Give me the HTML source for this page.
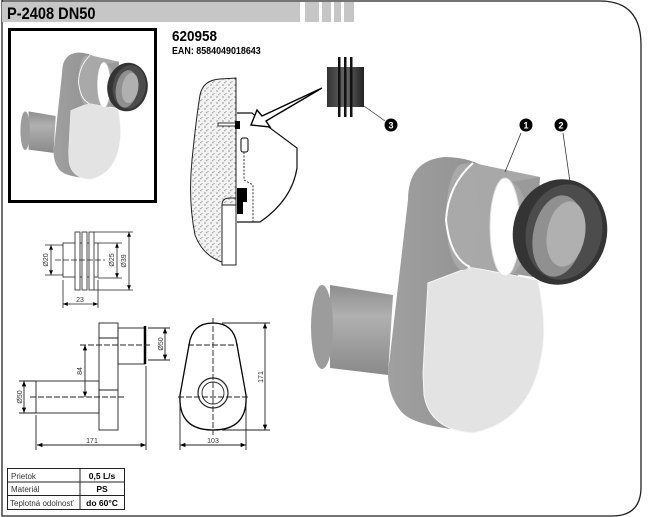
<!DOCTYPE html>
<html><head><meta charset="utf-8"><style>
html,body{margin:0;padding:0;background:#fff;}
svg{display:block;}
text{font-family:"Liberation Sans",sans-serif;}
</style></head><body>
<svg width="666" height="517" viewBox="0 0 666 517" xmlns="http://www.w3.org/2000/svg">
<defs>
<pattern id="st" width="6" height="6" patternUnits="userSpaceOnUse">
<rect width="6" height="6" fill="#f2f2f2"/><circle cx="1" cy="1" r="0.6" fill="#555"/><circle cx="4" cy="3.5" r="0.5" fill="#777"/><rect x="2" y="4.5" width="1.5" height="0.6" fill="#666"/>
</pattern>
<linearGradient id="gp" x1="0" y1="0" x2="0" y2="1"><stop offset="0" stop-color="#8e8e8e"/><stop offset="0.35" stop-color="#b0b0b0"/><stop offset="1" stop-color="#8a8a8a"/></linearGradient>
<linearGradient id="gs" x1="0" y1="0" x2="1" y2="0"><stop offset="0" stop-color="#a0a0a0"/><stop offset="1" stop-color="#8c8c8c"/></linearGradient>
<linearGradient id="gk" x1="0" y1="0" x2="1" y2="0"><stop offset="0" stop-color="#333"/><stop offset="0.5" stop-color="#666"/><stop offset="1" stop-color="#222"/></linearGradient>
<marker id="ar" viewBox="0 0 10 10" refX="10" refY="5" markerWidth="6" markerHeight="6" orient="auto-start-reverse"><path d="M0,1 L10,5 L0,9 z" fill="#000"/></marker>
<g id="part">
<path d="M330,285 L393,295 L388,375 L330,368 Z" fill="url(#gp)"/>
<ellipse cx="322" cy="327" rx="11" ry="42" fill="#9c9c9c"/>
<path d="M408,200 Q408,160 445,157 Q470,157 490,170 L520,270 L460,430 Q410,425 400,410 Q388,395 388,373 Z" fill="url(#gs)"/>
<path d="M470,267 L538,280 Q546,320 543,345 Q535,420 473,433 Q430,430 424,395 L423,373 L428,283 Z" fill="#e3e3e3" stroke="#f6f6f6" stroke-width="1"/>
<path d="M463,164 L473,163 L540,177 L533,277 L470,267 Q460,265 455,255 Z" fill="#a8a8a8"/>
<ellipse cx="463" cy="217" rx="17" ry="53" fill="#a9a9a9"/>
<path d="M473,163 Q448,185 446,220 Q450,258 470,267" fill="none" stroke="#fff" stroke-width="2"/>
<ellipse cx="505" cy="227" rx="15" ry="49" fill="#fff" stroke="#ddd" stroke-width="1"/>
<path d="M512,182 Q526,190 530,225 Q528,260 514,273 L533,277 L540,177 Z" fill="#9a9a9a"/>
<ellipse cx="560" cy="232" rx="47" ry="53" fill="#343434" transform="rotate(12 560 232)"/>
<ellipse cx="564" cy="232" rx="38" ry="48" fill="#4c4c4c" transform="rotate(12 564 232)"/>
<ellipse cx="558" cy="236" rx="25" ry="41" fill="#909090" transform="rotate(10 558 236)"/>
<ellipse cx="566" cy="234" rx="19" ry="33" fill="#b0b0b0" transform="rotate(10 566 234)"/>
</g>
</defs>
<!-- page border -->
<path d="M2,0 L2,516 L612,516 Q641,516 641,487 L641,45 Q641,1 600,1 L2,1" fill="none" stroke="#222" stroke-width="1.3"/>
<!-- header -->
<rect x="2" y="2" width="298" height="20" fill="#c6c6c6"/>
<rect x="305" y="2" width="14" height="20" fill="#c6c6c6"/>
<rect x="322" y="2" width="9" height="20" fill="#c6c6c6"/>
<rect x="334" y="2" width="7" height="20" fill="#c6c6c6"/>
<rect x="344" y="2" width="10" height="20" fill="#c6c6c6"/>
<text x="7" y="19" font-size="17" font-weight="bold" transform="scale(0.86,1)" style="transform-origin:7px 0">P-2408 DN50</text>
<text x="172" y="41" font-size="15" font-weight="bold" transform="scale(0.9,1)" style="transform-origin:172px 0">620958</text>
<text x="172" y="54" font-size="10.5" font-weight="bold" transform="scale(0.85,1)" style="transform-origin:172px 0">EAN: 8584049018643</text>
<!-- thumbnail -->
<rect x="9.5" y="29.5" width="146" height="172" fill="#fff" stroke="#000" stroke-width="3"/>
<use href="#part" transform="translate(20,53) scale(0.43,0.46) translate(-310,-158)"/>
<!-- wall section -->
<path d="M236,78 L236,265 Q205,262 195,235 Q188,200 192,160 Q196,120 200,95 Q203,80 220,79 Z" fill="url(#st)" stroke="#222" stroke-width="1"/>
<rect x="222" y="205" width="14" height="60" fill="#fff" stroke="#222" stroke-width="1"/>
<path d="M222,205 Q222,198 230,198 L236,198" fill="none" stroke="#222"/>
<path d="M237,113 L252,113 L262,122 L297,148 L297,168 Q292,200 260,222 L237,222" fill="none" stroke="#111" stroke-width="1.2"/>
<rect x="237" y="188" width="10" height="14" fill="#000"/><rect x="237" y="200" width="6" height="14" fill="#000"/>
<rect x="218" y="123" width="18" height="3" fill="#fff" stroke="#000" stroke-width="0.8"/><rect x="235" y="121" width="5" height="8" fill="#000"/>
<rect x="241" y="138" width="7" height="14" rx="2" fill="#fff" stroke="#000"/>
<path d="M244,152 L244,180 L253,185 L253,222" fill="none" stroke="#333" stroke-dasharray="2,1.5"/>
<path d="M322,88 L262,116 L257,110 L251,125 L270,127 L266,121 Z" fill="#fff" stroke="#000" stroke-width="1.4" stroke-linejoin="miter"/>
<!-- gasket 3 -->
<rect x="327" y="67" width="37" height="40" fill="url(#gk)"/>
<rect x="338" y="57" width="2.5" height="60" fill="#111"/><rect x="344" y="57" width="2.5" height="60" fill="#111"/><rect x="350" y="57" width="2.5" height="60" fill="#111"/>
<line x1="364" y1="106" x2="385" y2="121" stroke="#333" stroke-width="0.7"/>
<circle cx="391" cy="125" r="6.5" fill="#000"/><text x="391" y="128.5" font-size="9" font-weight="bold" fill="#fff" text-anchor="middle">3</text>
<circle cx="526" cy="125" r="6.5" fill="#000"/><text x="526" y="128.5" font-size="9" font-weight="bold" fill="#fff" text-anchor="middle">1</text>
<circle cx="561" cy="125" r="6.5" fill="#000"/><text x="561" y="128.5" font-size="9" font-weight="bold" fill="#fff" text-anchor="middle">2</text>
<!-- big part -->
<use href="#part"/>
<line x1="521" y1="133" x2="505" y2="172" stroke="#333" stroke-width="0.8"/>
<line x1="563" y1="133" x2="570" y2="182" stroke="#333" stroke-width="0.8"/>
<!-- gasket drawing -->
<g fill="none" stroke="#222" stroke-width="0.8">
<rect x="63" y="243" width="35" height="34"/>
<rect x="75" y="232" width="5" height="58" fill="#fff"/><rect x="82" y="232" width="5" height="58" fill="#fff"/><rect x="89" y="232" width="5" height="58" fill="#fff"/>
<line x1="55" y1="260" x2="105" y2="260" stroke-dasharray="6,2"/>
<line x1="45" y1="245" x2="63" y2="245"/><line x1="45" y1="275" x2="63" y2="275"/>
<line x1="51" y1="245" x2="51" y2="275" marker-start="url(#ar)" marker-end="url(#ar)"/>
<line x1="98" y1="243" x2="122" y2="243"/><line x1="98" y1="278" x2="122" y2="278"/>
<line x1="117" y1="243" x2="117" y2="278" marker-start="url(#ar)" marker-end="url(#ar)"/>
<line x1="94" y1="232" x2="133" y2="232"/><line x1="94" y1="290" x2="133" y2="290"/>
<line x1="129" y1="232" x2="129" y2="290" marker-start="url(#ar)" marker-end="url(#ar)"/>
<line x1="63" y1="280" x2="63" y2="308"/><line x1="98" y1="280" x2="98" y2="308"/>
<line x1="63" y1="304" x2="98" y2="304" marker-start="url(#ar)" marker-end="url(#ar)"/>
</g>
<g font-size="7" fill="#333">
<text transform="translate(48,260) rotate(-90)" text-anchor="middle">Ø20</text>
<text transform="translate(114,260) rotate(-90)" text-anchor="middle">Ø25</text>
<text transform="translate(126,261) rotate(-90)" text-anchor="middle">Ø39</text>
<text x="80" y="302" text-anchor="middle">23</text>
<text x="92" y="443" text-anchor="middle">171</text>
<text x="213" y="443" text-anchor="middle">103</text>
<text transform="translate(163,344) rotate(-90)" text-anchor="middle">Ø50</text>
<text transform="translate(82,371) rotate(-90)" text-anchor="middle">84</text>
<text transform="translate(22,397) rotate(-90)" text-anchor="middle">Ø50</text>
<text transform="translate(263,377) rotate(-90)" text-anchor="middle">171</text>
</g>
<!-- side view -->
<g fill="none" stroke="#222" stroke-width="0.9">
<rect x="99" y="323" width="19" height="107"/>
<line x1="99" y1="338" x2="118" y2="338"/><line x1="99" y1="390" x2="118" y2="390"/>
<rect x="118" y="328" width="27" height="36"/>
<line x1="145" y1="326" x2="145" y2="364" stroke="#000" stroke-width="2.5"/>
<rect x="36" y="381" width="63" height="32"/>
<line x1="30" y1="397" x2="125" y2="397" stroke-dasharray="6,2"/>
<line x1="80" y1="345" x2="150" y2="345" stroke-dasharray="6,2"/>
<line x1="19" y1="381" x2="36" y2="381"/><line x1="19" y1="413" x2="36" y2="413"/>
<line x1="24" y1="381" x2="24" y2="413" marker-start="url(#ar)" marker-end="url(#ar)"/>
<line x1="85" y1="345" x2="85" y2="397" marker-start="url(#ar)" marker-end="url(#ar)"/>
<line x1="148" y1="328" x2="170" y2="328"/><line x1="148" y1="360" x2="170" y2="360"/>
<line x1="165" y1="328" x2="165" y2="360" marker-start="url(#ar)" marker-end="url(#ar)"/>
<line x1="36" y1="415" x2="36" y2="450"/><line x1="146" y1="366" x2="146" y2="450"/>
<line x1="37" y1="445" x2="146" y2="445" marker-start="url(#ar)" marker-end="url(#ar)"/>
</g>
<!-- front view -->
<g fill="none" stroke="#222" stroke-width="0.9">
<path d="M213,323 Q234,323 237,345 L246,395 Q248,430 213,430 Q178,430 180,395 L189,345 Q192,323 213,323 Z" stroke="#000" stroke-width="1.3"/>
<circle cx="213" cy="393" r="15" stroke-width="1.2"/><circle cx="213" cy="393" r="11"/>
<line x1="213" y1="318" x2="213" y2="435" stroke-dasharray="6,2"/>
<line x1="188" y1="345" x2="238" y2="345" stroke-dasharray="6,2"/>
<line x1="178" y1="397" x2="248" y2="397" stroke-dasharray="6,2"/>
<line x1="222" y1="323" x2="270" y2="323"/><line x1="222" y1="430" x2="270" y2="430"/>
<line x1="265" y1="323" x2="265" y2="430" marker-start="url(#ar)" marker-end="url(#ar)"/>
<line x1="180" y1="405" x2="180" y2="450"/><line x1="246" y1="405" x2="246" y2="450"/>
<line x1="180" y1="445" x2="246" y2="445" marker-start="url(#ar)" marker-end="url(#ar)"/>
</g>
<!-- table -->
<g fill="none" stroke="#222" stroke-width="1">
<rect x="7.5" y="468.5" width="117" height="41"/>
<line x1="80" y1="468" x2="80" y2="510"/>
<line x1="7" y1="482" x2="125" y2="482"/><line x1="7" y1="495.5" x2="125" y2="495.5"/>
</g>
<g font-size="8" fill="#333">
<text x="11" y="479">Prietok</text><text x="11" y="492">Materiál</text><text x="10" y="506">Teplotná odolnosť</text>
</g>
<g font-size="8.5" font-weight="bold" fill="#000" text-anchor="middle">
<text x="102" y="479">0,5 L/s</text><text x="102" y="492">PS</text><text x="102" y="506">do 60°C</text>
</g>
</svg>
</body></html>
